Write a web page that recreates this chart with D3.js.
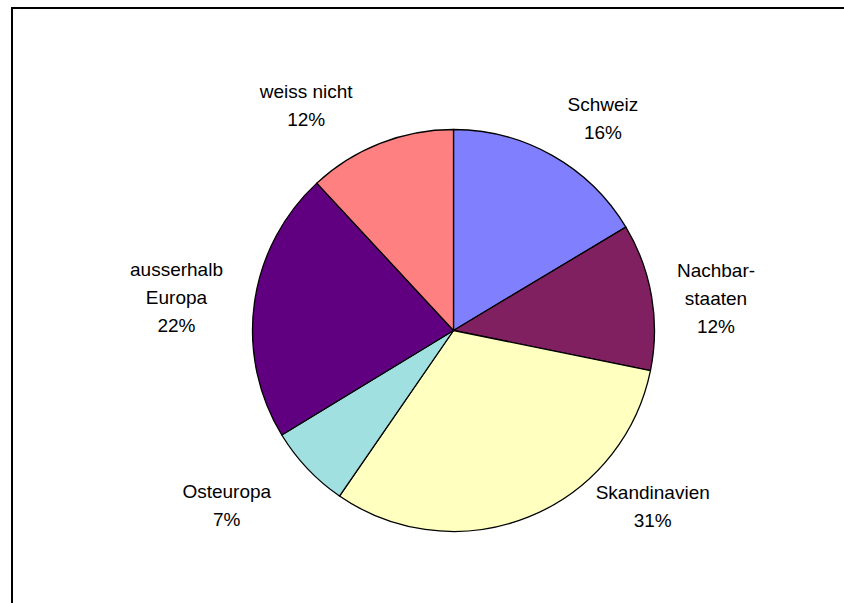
<!DOCTYPE html>
<html>
<head>
<meta charset="utf-8">
<script src="https://cdn.jsdelivr.net/npm/d3@7"></script>
<style>
  html, body { margin: 0; padding: 0; background: #fff; }
  svg { display: block; }
</style>
</head>
<body>
<svg id="chart" width="844" height="603"></svg>
<script>
const categories = ["Schweiz", "Nachbarstaaten", "Skandinavien", "Osteuropa", "ausserhalb Europa", "weiss nicht"];
const values = [16.4, 11.8, 31.4, 6.7, 21.8, 11.9];
const labelLines = [["Schweiz"], ["Nachbar-", "staaten"], ["Skandinavien"], ["Osteuropa"], ["ausserhalb", "Europa"], ["weiss nicht"]];
const percentLabels = ["16%", "12%", "31%", "7%", "22%", "12%"];
const colors = ["#8080FF", "#802060", "#FFFFC0", "#A0E0E0", "#600080", "#FF8080"];
// label placement nudges relative to the label-arc point
const labelNudge = [[28, -4], [16, 11], [99, -46], [-41, 11], [-22, 2], [-53, -3]];

const svg = d3.select("#chart");
const W = 844, H = 603;

svg.append("rect").attr("x", 0).attr("y", 0).attr("width", W).attr("height", H).attr("fill", "#fff");
svg.append("rect")
  .attr("x", 12).attr("y", 8).attr("width", 900).attr("height", 700)
  .attr("fill", "none").attr("stroke", "#000").attr("stroke-width", 2);

const cx = 453.5, cy = 330.5, r = 201;
const data = categories.map((c, i) => ({ cat: c, value: values[i], i }));
const pie = d3.pie().value(d => d.value).sort(null);
const arcs = pie(data);
const arc = d3.arc().innerRadius(0).outerRadius(r);

const g = svg.append("g").attr("transform", `translate(${cx},${cy})`);
g.selectAll("path.slice").data(arcs).enter().append("path")
  .attr("class", "slice")
  .attr("d", arc)
  .attr("fill", d => colors[d.data.i])
  .attr("stroke", "#000").attr("stroke-width", 1.3).attr("stroke-linejoin", "round");

const lineH = 28;
const fontSize = 19;
const lab = g.selectAll("text.lbl").data(arcs).enter().append("text")
  .attr("class", "lbl")
  .attr("font-family", "Liberation Sans, Arial, sans-serif")
  .attr("font-size", fontSize)
  .attr("fill", "#000")
  .attr("text-anchor", "middle");

lab.each(function(d) {
  const lines = labelLines[d.data.i].concat([percentLabels[d.data.i]]);
  const t = d3.select(this);
  lines.forEach((ln, k) => {
    t.append("tspan").attr("x", 0).attr("dy", k === 0 ? 0 : lineH).text(ln);
  });
  const bb = this.getBBox();
  const w = bb.width, h = lines.length * lineH;
  const a = (d.startAngle + d.endAngle) / 2;
  const R = r + 10;
  const px = Math.sin(a) * R, py = -Math.cos(a) * R;
  const bx = px + Math.sin(a) * w / 2 + labelNudge[d.data.i][0];
  const by = py - Math.cos(a) * h / 2 + labelNudge[d.data.i][1];
  const firstBase = by - h / 2 + lineH / 2 + fontSize * 0.35;
  t.attr("transform", `translate(${bx},${firstBase})`);
});
</script>
</body>
</html>
